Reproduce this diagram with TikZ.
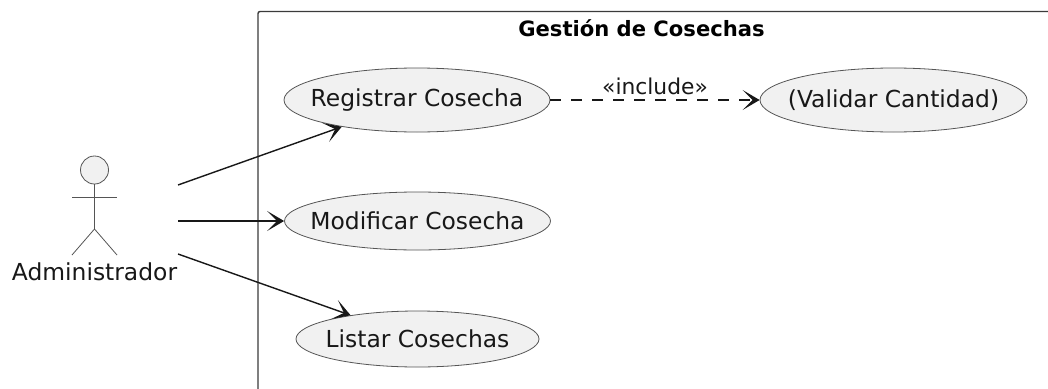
\documentclass[tikz,border=0pt]{standalone}
\usepackage{fontspec}
\setmainfont{DejaVu Sans}
\usetikzlibrary{arrows.meta,shapes.geometric}
\definecolor{ufill}{HTML}{F1F1F1}
\definecolor{uline}{HTML}{181818}
\definecolor{uthin}{HTML}{555555}
\tikzset{
  x=1pt,y=-1pt,
  usecase/.style={ellipse,draw=uthin,fill=ufill,line width=0.8pt,inner xsep=-22pt,inner ysep=-12pt,minimum height=64pt,text=uline,font=\fontsize{23.4}{27}\selectfont},
  assoc/.style={draw=uline,line width=1.4pt,-{Stealth[length=17pt,width=20pt,inset=10pt]}},
  actorline/.style={draw=uthin,line width=0.8pt},
  lbl/.style={inner sep=0pt,text=uline,font=\fontsize{23.4}{27}\selectfont},
  lblsmall/.style={inner sep=0pt,text=uline,font=\fontsize{21.8}{25}\selectfont},
}
\begin{document}
\begin{tikzpicture}
\clip (0,0) rectangle (1048,388);
\useasboundingbox (0,0) rectangle (1048,388);
\fill[white] (0,0) rectangle (1048,388);
\draw[draw=uline!85,line width=1.4pt,rounded corners=2pt] (258,11.5) rectangle (1070,410);
\node[lbl,font=\bfseries\fontsize{21.1}{25}\selectfont,text=black] (title) at (641.5,28.5) {Gestión de Cosechas};
\node[usecase,minimum width=266pt,minimum height=64pt] (reg) at (417,100) {Registrar Cosecha};
\node[usecase,minimum width=267pt,minimum height=64pt] (val) at (893.5,100) {(Validar Cantidad)};
\node[usecase,minimum width=266pt,minimum height=58pt] (mod) at (417.5,221) {Modificar Cosecha};
\node[usecase,minimum width=243pt,minimum height=56pt] (lis) at (417.5,339) {Listar Cosechas};
% actor
\node[circle,draw=uthin,fill=ufill,line width=0.8pt,minimum size=28pt,inner sep=0pt] (head) at (94.5,170) {};
\node[lbl] (adm) at (94.5,272) {Administrador};
\coordinate (neck) at (94.5,229);
\coordinate (armL) at (72,197);
\coordinate (armR) at (117,197);
\coordinate (footL) at (72,255);
\coordinate (footR) at (117,255);
\draw[actorline] (head.south) -- (neck);
\draw[actorline] (armL) -- (armR);
\draw[actorline] (footL) -- (neck) -- (footR);
\coordinate (a1) at (178,185);
\coordinate (a2) at (178,221);
\coordinate (a3) at (178,254);
\draw[assoc] (a1) -- (reg);
\draw[assoc] (a2) -- (mod);
\draw[assoc] (a3) -- (lis);
\draw[assoc,line width=1.2pt,dash pattern=on 11pt off 10pt] (reg) -- node[lblsmall,above=5pt,pos=0.5] (inc) {«include»} (val);
\end{tikzpicture}
\end{document}
